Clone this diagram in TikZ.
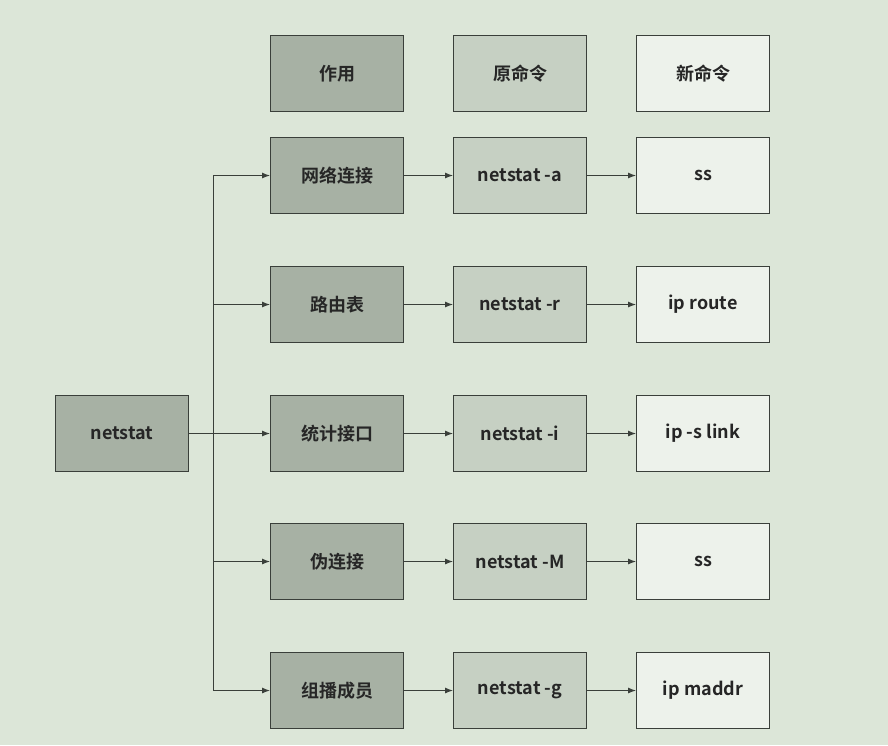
\documentclass[tikz,border=0pt]{standalone}
\usepackage{fontspec}
\setmainfont{Noto Sans CJK SC}[BoldFont={Noto Sans CJK SC Bold}]
\usetikzlibrary{arrows.meta}
\definecolor{bg}{HTML}{DCE6D8}
\definecolor{cA}{HTML}{A7B1A4}
\definecolor{cB}{HTML}{C6D0C3}
\definecolor{cC}{HTML}{EDF2EB}
\definecolor{ln}{HTML}{3A3F3A}
\begin{document}
\begin{tikzpicture}[x=1pt,y=-1pt,
  box/.style={draw=ln,line width=1pt,minimum width=133pt,minimum height=76pt,anchor=north west,font=\bfseries\fontsize{18}{20}\selectfont,text=black!85},
  bA/.style={box,fill=cA},bB/.style={box,fill=cB},bC/.style={box,fill=cC},
  arr/.style={draw=ln,line width=1pt,-{Latex[length=8pt,width=6pt]}}]
\fill[bg] (0,0) rectangle (888,745);
\useasboundingbox (0,0) rectangle (888,745);
\node[bA] (hA) at (270,35) {作用};
\node[bB] (hB) at (453,35) {原命令};
\node[bC] (hC) at (636,35) {新命令};
\node[bA] (n) at (55,395) {netstat};
\foreach \i/\y/\a/\b/\c in {1/137/网络连接/netstat -a/ss,2/266/路由表/netstat -r/ip route,3/395/统计接口/netstat -i/ip -s link,4/523/伪连接/netstat -M/ss,5/652/组播成员/netstat -g/ip maddr}{
  \node[bA] (a\i) at (270,\y) {\a};
  \node[bB] (b\i) at (453,\y) {\b};
  \node[bC] (c\i) at (636,\y) {\c};
  \draw[arr] (a\i) -- (b\i);
  \draw[arr] (b\i) -- (c\i);
}
\coordinate (t) at (213,0);
\draw[draw=ln,line width=1pt] (a1.west -| t) -- (a5.west -| t);
\draw[draw=ln,line width=1pt] (n.east) -- (n.east -| t);
\foreach \i in {1,...,5}{\draw[arr] (a\i.west -| t) -- (a\i.west);}
\end{tikzpicture}
\end{document}
